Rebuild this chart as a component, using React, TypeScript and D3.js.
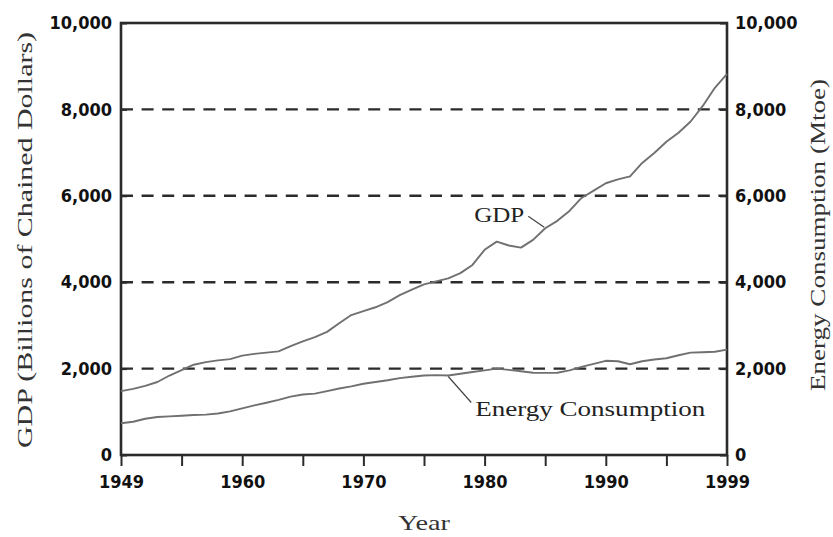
import React, { useEffect, useRef } from 'react';
import * as d3 from 'd3';

const YEARS = [
  1949, 1950, 1951, 1952, 1953, 1954, 1955, 1956, 1957, 1958,
  1959, 1960, 1961, 1962, 1963, 1964, 1965, 1966, 1967, 1968,
  1969, 1970, 1971, 1972, 1973, 1974, 1975, 1976, 1977, 1978,
  1979, 1980, 1981, 1982, 1983, 1984, 1985, 1986, 1987, 1988,
  1989, 1990, 1991, 1992, 1993, 1994, 1995, 1996, 1997, 1998, 1999,
];

// GDP, billions of chained dollars (left axis)
const GDP = [
  1480, 1530, 1600, 1690, 1840, 1967, 2090, 2150, 2190, 2220,
  2300, 2340, 2370, 2400, 2520, 2630, 2730, 2850, 3050, 3240,
  3330, 3420, 3540, 3700, 3830, 3950, 4020, 4090, 4210, 4400,
  4750, 4940, 4850, 4800, 4980, 5250, 5420, 5650, 5950, 6120,
  6290, 6380, 6450, 6760, 6990, 7250, 7460, 7720, 8080, 8500, 8820,
];

// Energy consumption, Mtoe (right axis)
const ENERGY = [
  735, 770, 840, 880, 895, 910, 925, 935, 960, 1010,
  1080, 1150, 1210, 1275, 1350, 1400, 1420, 1480, 1540, 1590,
  1650, 1690, 1730, 1780, 1810, 1840, 1850, 1840, 1880, 1920,
  1960, 2000, 1970, 1940, 1905, 1900, 1905, 1960, 2040, 2110,
  2180, 2170, 2100, 2170, 2210, 2240, 2310, 2370, 2380, 2390, 2440,
];

const Y_TICKS = [0, 2000, 4000, 6000, 8000, 10000];
const GRID_VALUES = [2000, 4000, 6000, 8000];
const X_TICKS = [1949, 1954, 1959, 1964, 1969, 1974, 1979, 1984, 1989, 1994, 1999];
const X_TICK_LABELS = ['1949', '', '1960', '', '1970', '', '1980', '', '1990', '', '1999'];

const W = 833, H = 537;
const margin = { top: 23, right: 106, bottom: 82, left: 121 };
const innerW = W - margin.left - margin.right;
const innerH = H - margin.top - margin.bottom;

const FRAME = '#2b2b2b';
const LINE = '#707070';
const TICK_FONT = "'Liberation Sans Narrow', 'DejaVu Sans Condensed', sans-serif";
const TITLE_FONT = "'Liberation Serif', 'Times New Roman', serif";

export default function App() {
  const svgRef = useRef<SVGSVGElement | null>(null);

  useEffect(() => {
    if (!svgRef.current) return;
    const svg = d3.select(svgRef.current);
    svg.selectAll('*').remove();
    const g = svg.append('g').attr('transform', `translate(${margin.left},${margin.top})`);

    const xScale = d3.scaleLinear().domain([1949, 1999]).range([0, innerW]);
    const yScale = d3.scaleLinear().domain([0, 10000]).range([innerH, 0]);

    // Dashed grid
    g.selectAll('line.grid').data(GRID_VALUES).enter().append('line')
      .attr('x1', 0).attr('x2', innerW)
      .attr('y1', d => yScale(d)).attr('y2', d => yScale(d))
      .attr('stroke', FRAME).attr('stroke-width', 2.4)
      .attr('stroke-dasharray', '12,8.6');

    // Axes
    const styleAxis = (ax: any) => {
      ax.select('.domain').remove();
      ax.selectAll('line').attr('stroke', FRAME).attr('stroke-width', 2);
      ax.selectAll('text')
        .attr('fill', '#111')
        .style('font-family', TICK_FONT)
        .style('font-weight', 700)
        .style('font-size', '18px');
    };

    g.append('g').attr('transform', `translate(0,${innerH})`)
      .call(d3.axisBottom(xScale).tickValues(X_TICKS).tickSize(11).tickPadding(9)
        .tickFormat((d, i) => X_TICK_LABELS[i]))
      .call(styleAxis);

    g.append('g')
      .call(d3.axisLeft(yScale).tickValues(Y_TICKS).tickSize(-6).tickPadding(9)
        .tickFormat(d3.format(',')))
      .call(styleAxis);

    g.append('g').attr('transform', `translate(${innerW},0)`)
      .call(d3.axisRight(yScale).tickValues(Y_TICKS).tickSize(-7).tickPadding(8)
        .tickFormat(d3.format(',')))
      .call(styleAxis);

    // Frame
    g.append('rect')
      .attr('x', 0).attr('y', 0).attr('width', innerW).attr('height', innerH)
      .attr('fill', 'none').attr('stroke', FRAME).attr('stroke-width', 2.6);

    // Series
    const line = d3.line<number>()
      .x((d, i) => xScale(YEARS[i]))
      .y(d => yScale(d));

    [GDP, ENERGY].forEach(series => {
      g.append('path')
        .datum(series)
        .attr('d', line)
        .attr('fill', 'none')
        .attr('stroke', LINE)
        .attr('stroke-width', 1.9)
        .attr('stroke-linejoin', 'round');
    });

    // GDP annotation
    const gi = YEARS.indexOf(1984);
    const gx = xScale(1984) - 1, gy = yScale(GDP[gi]) - 1;
    g.append('line')
      .attr('x1', gx).attr('y1', gy).attr('x2', gx - 16).attr('y2', gy - 11)
      .attr('stroke', '#444').attr('stroke-width', 1.2);
    g.append('text')
      .attr('x', gx - 70).attr('y', gy - 5)
      .attr('textLength', 50).attr('lengthAdjust', 'spacingAndGlyphs')
      .style('font-family', TITLE_FONT).style('font-size', '22px').attr('fill', '#222')
      .text('GDP');

    // Energy annotation
    const ei = YEARS.indexOf(1976);
    const ex = xScale(1976), ey = yScale(ENERGY[ei]) + 1;
    g.append('line')
      .attr('x1', ex).attr('y1', ey).attr('x2', ex + 23).attr('y2', ey + 26)
      .attr('stroke', '#444').attr('stroke-width', 1.2);
    g.append('text')
      .attr('x', ex + 27).attr('y', ey + 39)
      .attr('textLength', 230).attr('lengthAdjust', 'spacingAndGlyphs')
      .style('font-family', TITLE_FONT).style('font-size', '22px').attr('fill', '#222')
      .text('Energy Consumption');

    // Axis titles
    g.append('text')
      .attr('x', innerW / 2).attr('y', innerH + 75)
      .attr('text-anchor', 'middle')
      .attr('textLength', 52).attr('lengthAdjust', 'spacingAndGlyphs')
      .style('font-family', TITLE_FONT).style('font-size', '22px').attr('fill', '#333')
      .text('Year');

    g.append('text')
      .attr('transform', `translate(${-margin.left + 32},${innerH / 2 + 1}) rotate(-90)`)
      .attr('text-anchor', 'middle')
      .attr('textLength', 416).attr('lengthAdjust', 'spacingAndGlyphs')
      .style('font-family', TITLE_FONT).style('font-size', '22px').attr('fill', '#333')
      .text('GDP (Billions of Chained Dollars)');

    g.append('text')
      .attr('transform', `translate(${innerW + 98},${innerH / 2 - 4}) rotate(-90)`)
      .attr('text-anchor', 'middle')
      .attr('textLength', 312).attr('lengthAdjust', 'spacingAndGlyphs')
      .style('font-family', TITLE_FONT).style('font-size', '22px').attr('fill', '#333')
      .text('Energy Consumption (Mtoe)');
  }, []);

  return (
    <div style={{ position: 'absolute', left: 0, top: 0, width: W, height: H, background: '#fff' }}>
      <svg ref={svgRef} width={W} height={H} style={{ display: 'block' }} />
    </div>
  );
}
